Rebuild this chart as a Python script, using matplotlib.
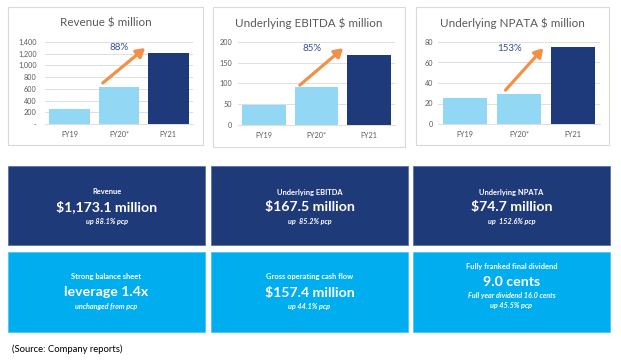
import matplotlib
matplotlib.use("Agg")
import matplotlib.pyplot as plt
from matplotlib.patches import Rectangle
from matplotlib.ticker import FixedLocator

plt.rcParams['font.family'] = ['Lato', 'DejaVu Sans']

# Chart data
years = ["FY19", "FY20*", "FY21"]
revenue = [250, 640, 1210]
ebitda = [48, 91, 167.5]
npata = [25, 29.5, 74.7]
titles = ["Revenue $ million", "Underlying EBITDA $ million", "Underlying NPATA $ million"]
growth = ["88%", "85%", "153%"]
yticks_rev = [0, 200, 400, 600, 800, 1000, 1200, 1400]
ytick_labels_rev = ["-", "200", "400", "600", "800", "1,000", "1,200", "1,400"]
yticks_ebitda = [0, 50, 100, 150, 200]
yticks_npata = [0, 20, 40, 60, 80]

# Summary boxes
top_heads = ["Revenue", "Underlying EBITDA", "Underlying NPATA"]
top_values = ["$1,173.1 million", "$167.5 million", "$74.7 million"]
top_subs = ["up 88.1% pcp", "up  85.2% pcp", "up  152.6% pcp"]
bot_heads = ["Strong balance sheet", "Gross operating cash flow", "Fully franked final dividend"]
bot_values = ["leverage 1.4x", "$157.4 million", "9.0 cents"]
bot_subs = ["unchanged from pcp", "up 44.1% pcp", "Full year dividend 16.0 cents\nup 45.5% pcp"]

W, H = 621, 362
LIGHT = "#92D8F4"
DARK = "#1F3A7A"
ORANGE = "#F39048"
NAVY = "#1F3A78"
CYAN = "#00AEEF"
GREY = "#595959"

fig = plt.figure(figsize=(W / 100, H / 100), dpi=100)


def fx(x):
    return x / W


def fy(y):
    return 1 - y / H


def px_rect(x0, y0, x1, y1, **kw):
    r = Rectangle((fx(x0), fy(y1)), fx(x1 - x0), (y1 - y0) / H,
                  transform=fig.transFigure, **kw)
    fig.patches.append(r)


# panel frames, axes boxes (pixels), arrows (data coords)
frames = [(8, 7, 203, 145), (213, 7, 405, 147), (416, 7, 609, 145)]
axes_px = [(45, 42, 193, 124), (238, 42, 395, 125), (438, 42, 600, 124)]
series = [revenue, ebitda, npata]
ticks = [yticks_rev, yticks_ebitda, yticks_npata]
arrows = [((0.67, 700), (1.53, 1297), (1.0, 1313)),
          ((0.68, 96), (1.51, 185), (0.92, 185)),
          ((0.75, 33), (1.45, 74), (0.83, 74))]
pads = [6, 4, 3.5]

for i in range(3):
    x0, y0, x1, y1 = frames[i]
    px_rect(x0, y0, x1, y1, facecolor="none", edgecolor="#D9D9D9", lw=0.8)
    fig.text(fx((x0 + x1) / 2), fy(23), titles[i], ha="center", va="center",
             fontsize=8.4, color=GREY)

    a0, b0, a1, b1 = axes_px[i]
    ax = fig.add_axes([fx(a0), fy(b1), fx(a1 - a0), (b1 - b0) / H])
    ax.set_facecolor("none")
    ax.bar(range(3), series[i], width=0.83, color=[LIGHT, LIGHT, DARK], zorder=3)
    ax.set_xlim(-0.5, 2.5)
    ax.set_ylim(0, ticks[i][-1])
    ax.yaxis.set_major_locator(FixedLocator(ticks[i]))
    if i == 0:
        ax.set_yticklabels(ytick_labels_rev)
    ax.set_xticks(range(3))
    ax.set_xticklabels(years)
    ax.grid(axis="y", color="#D9D9D9", lw=0.6, zorder=0)
    for s in ["left", "right", "top"]:
        ax.spines[s].set_visible(False)
    ax.spines["bottom"].set_color("#D9D9D9")
    ax.spines["bottom"].set_linewidth(0.6)
    ax.tick_params(axis="both", length=0, labelsize=5.2, labelcolor=GREY)
    ax.tick_params(axis="y", pad=pads[i])
    ax.tick_params(axis="x", pad=5)

    start, end, lab = arrows[i]
    ax.annotate("", xy=end, xytext=start,
                arrowprops=dict(arrowstyle="-|>,head_length=0.5,head_width=0.3",
                                color=ORANGE, lw=2.3, shrinkA=0, shrinkB=0),
                zorder=5)
    ax.text(lab[0], lab[1], growth[i], ha="center", va="center",
            fontsize=7, color="#34508F")

# summary boxes
box_x = [(8, 205), (211, 408), (413, 610)]
for i in range(3):
    x0, x1 = box_x[i]
    cx = fx((x0 + x1) / 2)
    px_rect(x0, 166, x1, 245, facecolor=NAVY, edgecolor="#5B73A8", lw=0.6)
    fig.text(cx, fy(192), top_heads[i], ha="center", va="center",
             fontsize=5.4, color="white", fontweight="bold")
    fig.text(cx, fy(207), top_values[i], ha="center", va="center",
             fontsize=10.2, color="white", fontweight="bold")
    fig.text(cx, fy(221.5), top_subs[i], ha="center", va="center",
             fontsize=5.2, color="white", fontweight="bold", style="italic")

    px_rect(x0, 252, x1, 332, facecolor=CYAN, edgecolor="#4FC6F2", lw=0.6)
    if i < 2:
        ys = (277, 292.5, 307)
    else:
        ys = (266, 281.5, 300.5)
    fig.text(cx, fy(ys[0]), bot_heads[i], ha="center", va="center",
             fontsize=5.4, color="white", fontweight="bold")
    fig.text(cx, fy(ys[1]), bot_values[i], ha="center", va="center",
             fontsize=10.2, color="white", fontweight="bold")
    fig.text(cx, fy(ys[2]), bot_subs[i], ha="center", va="center",
             fontsize=5.2, color="white", fontweight="bold", style="italic",
             linespacing=1.55)

fig.text(fx(12), fy(349), "(Source: Company reports)", ha="left", va="center",
         fontsize=6.8, color="black")

fig.savefig("out.png", dpi=100)
